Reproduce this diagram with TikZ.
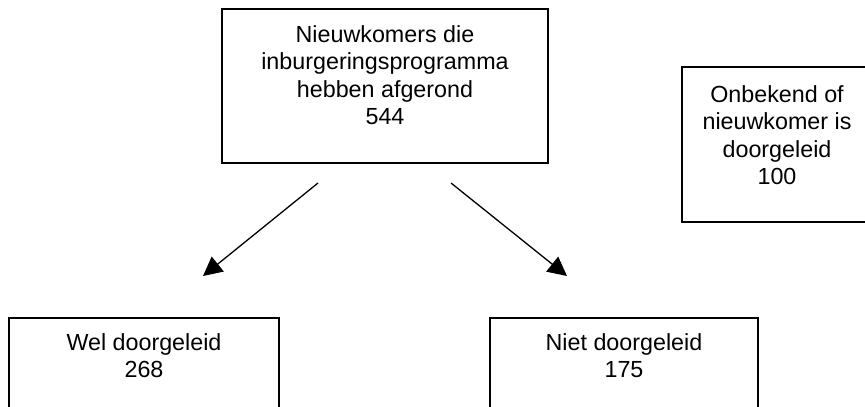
\documentclass[tikz,border=0pt]{standalone}
\usepackage{fontspec}
\setmainfont{Liberation Sans}
\usetikzlibrary{arrows.meta}
\tikzset{
  boxnode/.style={draw=black, line width=1.3pt, rectangle, inner sep=0pt},
  txtnode/.style={anchor=north, inner sep=0pt, align=center, font=\fontsize{23.3}{27.3}\selectfont},
  conn/.style={line width=1.3pt, -{Triangle[length=19pt,width=19pt]}}
}
\begin{document}
\begin{tikzpicture}[x=1pt,y=-1pt]
\useasboundingbox (0,0) rectangle (865,407);
\clip (0,0) rectangle (865,407);
% boxes
\node[boxnode, minimum width=326pt, minimum height=154pt] (top) at (385,86) {};
\node[boxnode, minimum width=190pt, minimum height=155pt] (unk) at (777,144.5) {};
\node[boxnode, minimum width=270pt, minimum height=140pt] (wel) at (144,388) {};
\node[boxnode, minimum width=268pt, minimum height=140pt] (niet) at (624,388) {};
% texts
\node[txtnode] (toptxt) at (385,25.5) {Nieuwkomers die\\inburgeringsprogramma\\hebben afgerond\\544};
\node[txtnode] (unktxt) at (777,85.5) {Onbekend of\\nieuwkomer is\\doorgeleid\\100};
\node[txtnode] (weltxt) at (144,333.5) {Wel doorgeleid\\268};
\node[txtnode] (niettxt) at (624,333.5) {Niet doorgeleid\\175};
% connectors
\coordinate (s1) at (318,183);
\coordinate (e1) at (203,276);
\coordinate (s2) at (451,183);
\coordinate (e2) at (567,276);
\draw[conn] (s1) -- (e1);
\draw[conn] (s2) -- (e2);
\end{tikzpicture}
\end{document}
